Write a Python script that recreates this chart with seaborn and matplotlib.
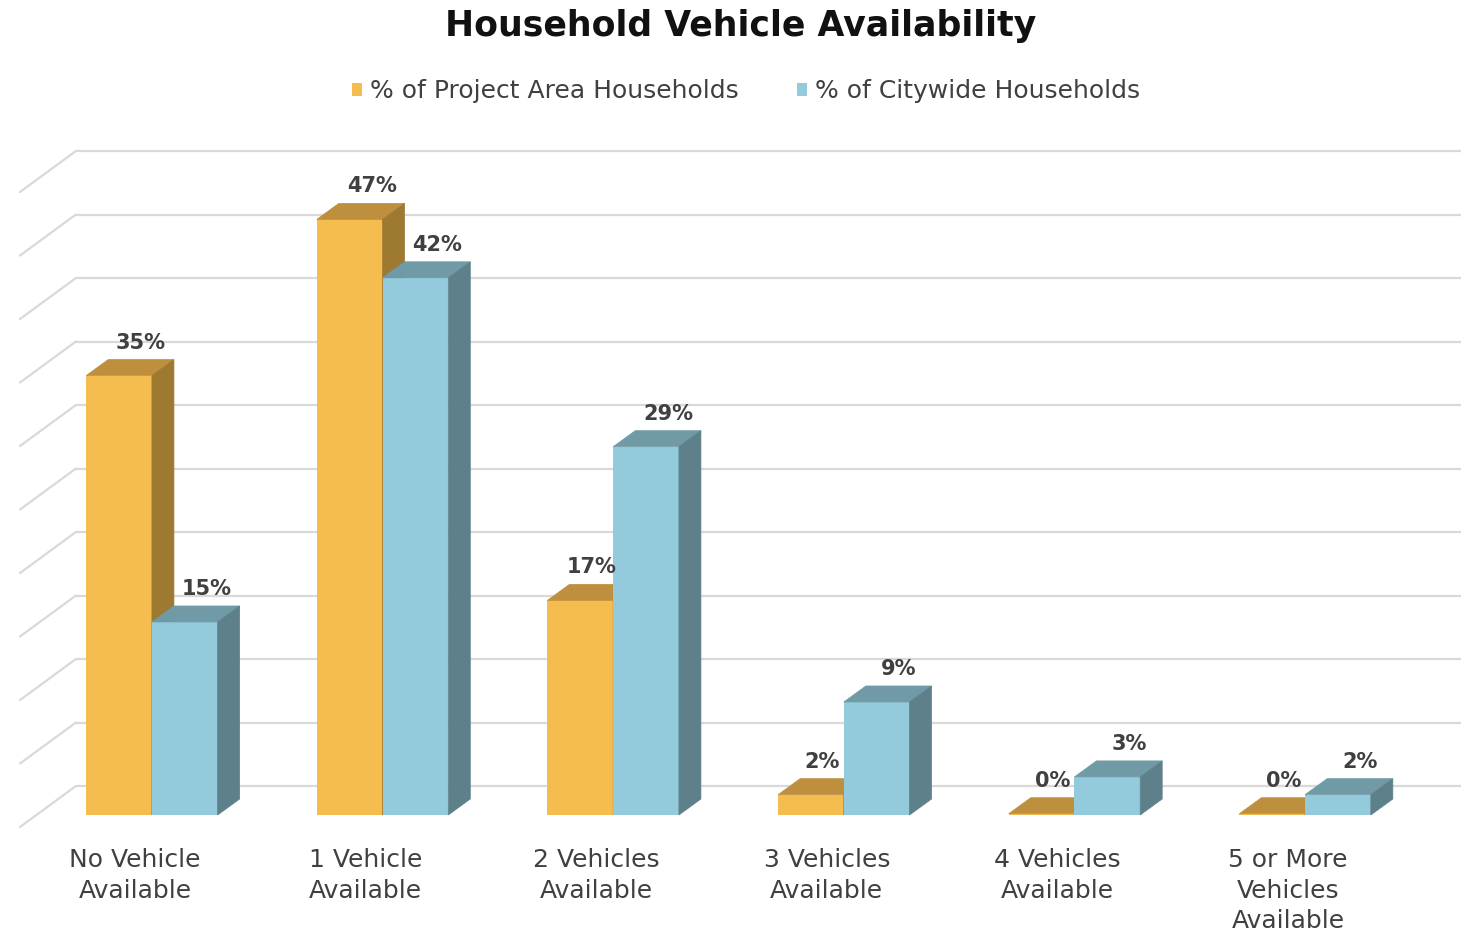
import numpy as np
import pandas as pd
import matplotlib
matplotlib.use("Agg")
import matplotlib.pyplot as plt
import seaborn as sns
from matplotlib.patches import Polygon, Patch
from matplotlib.transforms import ScaledTranslation

# ---------------- data ----------------
categories = ["No Vehicle\nAvailable", "1 Vehicle\nAvailable", "2 Vehicles\nAvailable",
              "3 Vehicles\nAvailable", "4 Vehicles\nAvailable", "5 or More\nVehicles\nAvailable"]
series_names = ["% of Project Area Households", "% of Citywide Households"]
project_area = [34.6, 46.9, 16.9, 1.6, 0.1, 0.1]
citywide = [15.2, 42.3, 29.0, 8.9, 3.0, 1.6]
grid_values = [0, 5, 10, 15, 20, 25, 30, 35, 40, 45, 50]
title = "Household Vehicle Availability"

df = pd.DataFrame({
    "category": categories * 2,
    "series": [series_names[0]] * len(categories) + [series_names[1]] * len(categories),
    "value": project_area + citywide,
})

# ---------------- style ----------------
front_cols = ["#F5BC4F", "#94CBDC"]
top_cols = ["#BE8F3C", "#6F9AA6"]
side_cols = ["#9E7932", "#5D808A"]
text_col = "#404040"
grid_col = "#D9D9D9"

sns.set_theme(style="white")
plt.rcParams["font.family"] = ["DejaVu Sans"]

W, H = 1461, 932
fig = plt.figure(figsize=(W / 100, H / 100), dpi=100)
ax = fig.add_axes([20 / W, (H - 830) / H, (1461 - 20) / W, (830 - 140) / H])

sns.barplot(data=df, x="category", y="value", hue="series", order=categories,
            hue_order=series_names, palette=front_cols, saturation=1, width=0.57,
            linewidth=0, legend=False, ax=ax, errorbar=None)

ax.set_xlim(-0.572, 5.676)
ax.set_ylim(-1.181, 53.15)

# depth offsets (data units)
dx = 0.0954
dy = 1.26

# back wall + left wall gridlines
back_dy = 2.283
wall_x_back = -0.3296
wall_x_front = -0.572
wall_drop = 3.23
for g in grid_values:
    yb = g + back_dy
    ax.plot([wall_x_back, 5.676], [yb, yb], color=grid_col, lw=1.6, zorder=0, clip_on=False)
    ax.plot([wall_x_front, wall_x_back], [yb - wall_drop, yb], color=grid_col, lw=1.6,
            zorder=0, clip_on=False)

# 3D faces + value labels
for si, cont in enumerate(ax.containers):
    vals = project_area if si == 0 else citywide
    others = citywide if si == 0 else project_area
    for bar, v, o in zip(cont, vals, others):
        bar.set_zorder(2 + 2 * si)
        x0 = bar.get_x()
        w = bar.get_width()
        h = bar.get_height()
        x1 = x0 + w
        top = Polygon([(x0, h), (x1, h), (x1 + dx, h + dy), (x0 + dx, h + dy)],
                      closed=True, facecolor=top_cols[si], edgecolor=top_cols[si],
                      lw=0.5, zorder=2 + 2 * si)
        side = Polygon([(x1, 0), (x1 + dx, dy), (x1 + dx, h + dy), (x1, h)],
                       closed=True, facecolor=side_cols[si], edgecolor=side_cols[si],
                       lw=0.5, zorder=2 + 2 * si)
        ax.add_patch(top)
        ax.add_patch(side)
        lab_dx = dx if (si == 1 or v >= o) else dx * 0.5
        ax.text(x0 + w / 2 + lab_dx, h + dy + 0.55, f"{v:.0f}%", ha="center", va="bottom",
                fontsize=15, fontweight="bold", color=text_col, zorder=10)

# axes cosmetics
for s in ax.spines.values():
    s.set_visible(False)
ax.set_xlabel("")
ax.set_ylabel("")
ax.set_yticks([])
ax.tick_params(axis="x", length=0, pad=13, labelsize=18, labelcolor=text_col)
for lab in ax.get_xticklabels():
    lab.set_linespacing(1.35)
    lab.set_transform(lab.get_transform() + ScaledTranslation(-0.17, 0, fig.dpi_scale_trans))

# title
fig.text(741 / W, 1 - 26 / H, title, ha="center", va="center", fontsize=25,
         fontweight="bold", color="#111111")

# legend
handles = [Patch(facecolor=front_cols[i], edgecolor="none", label=series_names[i]) for i in range(2)]
fig.legend(handles=handles, loc="center", bbox_to_anchor=(746 / W, 1 - 91 / H), ncol=2,
           frameon=False, fontsize=18, handlelength=0.42, handleheight=0.42,
           handletextpad=0.32, columnspacing=2.3, labelcolor=text_col)

fig.savefig("out.png", dpi=100, facecolor="white")
